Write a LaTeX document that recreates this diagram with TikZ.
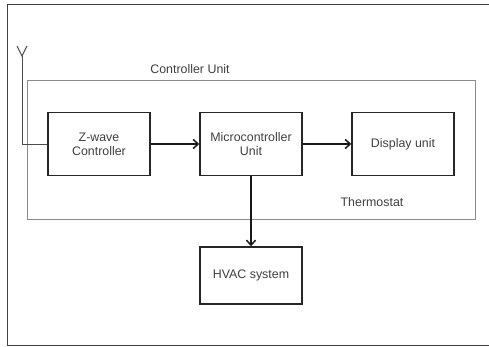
\documentclass[tikz,border=0pt]{standalone}
\usepackage{fontspec}
\setmainfont{Liberation Sans}
\usetikzlibrary{arrows.meta}
\begin{document}
\begin{tikzpicture}[x=1pt,y=-1pt,
  blk/.style={draw=black!85,line width=1.4pt,minimum width=102pt,minimum height=63pt,inner sep=0pt,align=center,font=\fontsize{12.4}{14}\selectfont,text=black!75},
  conn/.style={line width=1.8pt,draw=black!90,-{Straight Barb[length=5pt,width=9pt,line width=1.5pt]}},
  lbl/.style={font=\fontsize{12.4}{14}\selectfont,text=black!75}]
\useasboundingbox (0,0) rectangle (489,347);
\fill[white] (0,0) rectangle (489,347);
% outer frame
\draw[black!75,line width=1pt] (489,5) -- (7,5) -- (7,345.5) -- (489,345.5);
% controller unit container
\draw[black!45,line width=0.9pt] (27,80) rectangle (475,219);
\node[lbl] (cu) at (190,69) {Controller Unit};
\node[lbl] (th) at (372,202) {Thermostat};
% blocks
\node[blk] (zw) at (99,144) {Z-wave\\Controller};
\node[blk] (mc) at (251,144) {Microcontroller\\Unit};
\node[blk] (du) at (403,144) {Display unit};
\node[blk,minimum height=57pt] (hv) at (251,275.5) {HVAC system};
% antenna
\coordinate (ant) at (22,56);
\coordinate (antb) at (22,144);
\coordinate (al) at (17,46);
\coordinate (ar) at (27,46);
\draw[black!70,line width=0.9pt] (zw.west) -- (antb) -- (ant);
\draw[black!70,line width=0.9pt] (al) -- (ant) -- (ar);
% connectors
\draw[conn] (zw) -- (mc);
\draw[conn] (mc) -- (du);
\draw[conn] (mc) -- (hv);
\end{tikzpicture}
\end{document}
